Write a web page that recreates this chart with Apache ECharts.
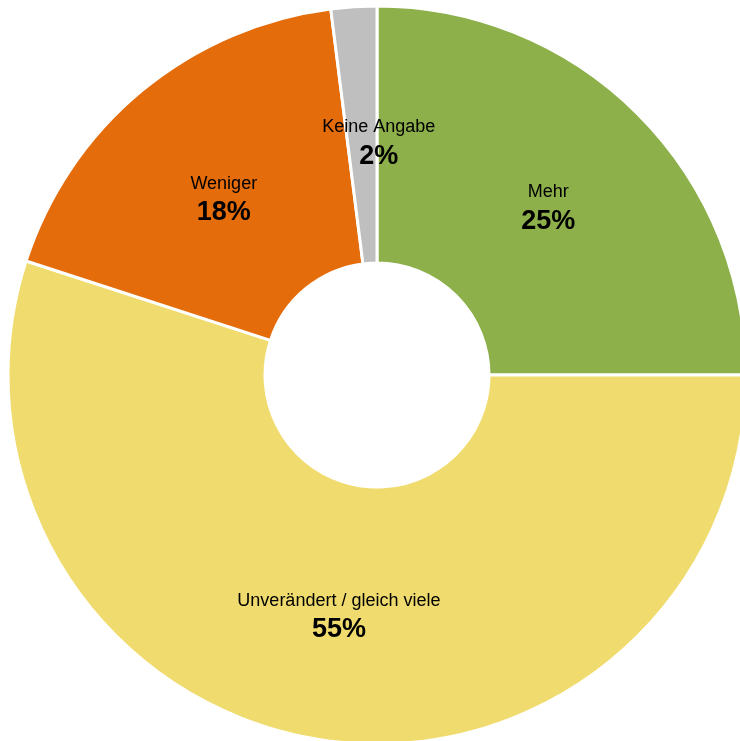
<!DOCTYPE html>
<html>
<head>
<meta charset="utf-8">
<script src="https://cdn.jsdelivr.net/npm/echarts@6/dist/echarts.min.js"></script>
<style>
html,body{margin:0;padding:0;background:#fff;}
#c{width:740px;height:741px;}
</style>
</head>
<body>
<div id="c"></div>
<script>
const categories = ['Mehr', 'Unverändert / gleich viele', 'Weniger', 'Keine Angabe'];
const values = [25, 55, 18, 2];
const colors = ['#8DB04B', '#F0DC6E', '#E46C0A', '#BFBFBF'];
const labelOffsets = [[-1, 4], [0, 0], [2, 11], [17, 10]];

const chart = echarts.init(document.getElementById('c'), null, {renderer: 'canvas'});
const data = categories.map((name, i) => ({
  name: name,
  value: values[i],
  itemStyle: {color: colors[i]},
  label: {offset: labelOffsets[i]}
}));
chart.setOption({
  animation: false,
  backgroundColor: '#ffffff',
  series: [{
    type: 'pie',
    center: [377, 375],
    radius: [112, 369],
    startAngle: 90,
    clockwise: true,
    avoidLabelOverlap: false,
    itemStyle: {borderColor: '#ffffff', borderWidth: 3},
    label: {
      show: true,
      position: 'inside',
      formatter: function (p) { return '{n|' + p.name + '}\n{p|' + p.value + '%}'; },
      rich: {
        n: {fontFamily: 'Liberation Sans', fontSize: 18, color: '#000', lineHeight: 29},
        p: {fontFamily: 'Liberation Sans', fontSize: 27, fontWeight: 'bold', color: '#000', lineHeight: 29}
      }
    },
    labelLine: {show: false},
    emphasis: {disabled: true},
    data: data
  }]
});
</script>
</body>
</html>
